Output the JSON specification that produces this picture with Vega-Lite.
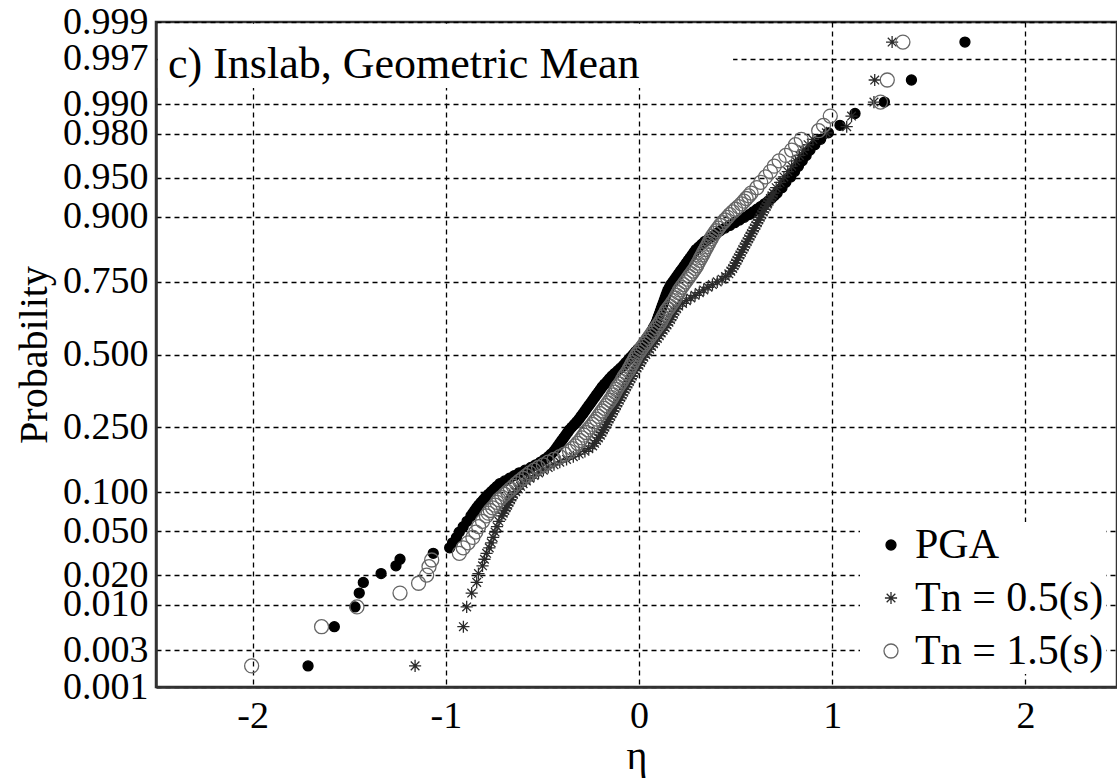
{
  "$schema": "https://vega.github.io/schema/vega-lite/v6.json",
  "width": 961,
  "height": 665,
  "autosize": {"type": "none"},
  "padding": {"left": 156, "top": 22, "right": 0, "bottom": 95},
  "background": "white",
  "config": {
    "view": {"stroke": "#333333", "strokeWidth": 2.5},
    "font": "Liberation Serif",
    "legend": {
      "orient": "none",
      "legendX": 704,
      "legendY": 500,
      "fillColor": "white",
      "padding": 2,
      "labelFont": "Liberation Serif",
      "labelFontSize": 42,
      "labelColor": "black",
      "labelLimit": 400,
      "symbolOffset": 8,
      "labelOffset": 3,
      "rowPadding": 11,
      "symbolStrokeWidth": 1.3
    }
  },
  "layer": [
    {
      "data": {"values": [{}]},
      "mark": {"type": "rect", "fill": "white"},
      "encoding": {
        "x": {"datum": -2.49, "type": "quantitative", "scale": {"domain": [-2.5, 2.474], "nice": false, "zero": false}},
        "x2": {"datum": 0.487},
        "y": {"datum": 2.477, "type": "quantitative", "scale": {"domain": [-3.0902, 3.0902], "nice": false, "zero": false}},
        "y2": {"datum": 3.075}
      }
    },
    {
      "data": {"values": [{}]},
      "mark": {"type": "text", "text": "c) Inslab, Geometric Mean", "align": "left", "baseline": "alphabetic", "font": "Liberation Serif", "fontSize": 44, "color": "black"},
      "encoding": {
        "x": {"datum": -2.438, "type": "quantitative", "scale": {"domain": [-2.5, 2.474], "nice": false, "zero": false}},
        "y": {"datum": 2.57, "type": "quantitative", "scale": {"domain": [-3.0902, 3.0902], "nice": false, "zero": false}}
      }
    },
    {
      "data": {"values": [
        {"series": "PGA", "eta": -1.713, "z": -2.894},
        {"series": "PGA", "eta": -1.577, "z": -2.530},
        {"series": "PGA", "eta": -1.470, "z": -2.346},
        {"series": "PGA", "eta": -1.448, "z": -2.217},
        {"series": "PGA", "eta": -1.427, "z": -2.118},
        {"series": "PGA", "eta": -1.335, "z": -2.036},
        {"series": "PGA", "eta": -1.258, "z": -1.964},
        {"series": "PGA", "eta": -1.237, "z": -1.903},
        {"series": "PGA", "eta": -1.065, "z": -1.848},
        {"series": "PGA", "eta": -0.980, "z": -1.797},
        {"series": "PGA", "eta": -0.965, "z": -1.75},
        {"series": "PGA", "eta": -0.945, "z": -1.70},
        {"series": "PGA", "eta": -0.930, "z": -1.65},
        {"series": "PGA", "eta": -0.910, "z": -1.60},
        {"series": "PGA", "eta": -0.890, "z": -1.55},
        {"series": "PGA", "eta": -0.870, "z": -1.50},
        {"series": "PGA", "eta": -0.860, "z": -1.475},
        {"series": "PGA", "eta": -0.850, "z": -1.45},
        {"series": "PGA", "eta": -0.840, "z": -1.425},
        {"series": "PGA", "eta": -0.830, "z": -1.40},
        {"series": "PGA", "eta": -0.818, "z": -1.375},
        {"series": "PGA", "eta": -0.805, "z": -1.35},
        {"series": "PGA", "eta": -0.793, "z": -1.325},
        {"series": "PGA", "eta": -0.780, "z": -1.30},
        {"series": "PGA", "eta": -0.765, "z": -1.275},
        {"series": "PGA", "eta": -0.750, "z": -1.25},
        {"series": "PGA", "eta": -0.735, "z": -1.225},
        {"series": "PGA", "eta": -0.720, "z": -1.20},
        {"series": "PGA", "eta": -0.695, "z": -1.175},
        {"series": "PGA", "eta": -0.670, "z": -1.15},
        {"series": "PGA", "eta": -0.645, "z": -1.125},
        {"series": "PGA", "eta": -0.620, "z": -1.10},
        {"series": "PGA", "eta": -0.590, "z": -1.075},
        {"series": "PGA", "eta": -0.560, "z": -1.05},
        {"series": "PGA", "eta": -0.535, "z": -1.025},
        {"series": "PGA", "eta": -0.510, "z": -1.00},
        {"series": "PGA", "eta": -0.490, "z": -0.975},
        {"series": "PGA", "eta": -0.470, "z": -0.95},
        {"series": "PGA", "eta": -0.455, "z": -0.925},
        {"series": "PGA", "eta": -0.440, "z": -0.90},
        {"series": "PGA", "eta": -0.430, "z": -0.875},
        {"series": "PGA", "eta": -0.420, "z": -0.85},
        {"series": "PGA", "eta": -0.410, "z": -0.825},
        {"series": "PGA", "eta": -0.400, "z": -0.80},
        {"series": "PGA", "eta": -0.390, "z": -0.775},
        {"series": "PGA", "eta": -0.380, "z": -0.75},
        {"series": "PGA", "eta": -0.370, "z": -0.725},
        {"series": "PGA", "eta": -0.360, "z": -0.70},
        {"series": "PGA", "eta": -0.348, "z": -0.675},
        {"series": "PGA", "eta": -0.335, "z": -0.65},
        {"series": "PGA", "eta": -0.322, "z": -0.625},
        {"series": "PGA", "eta": -0.310, "z": -0.60},
        {"series": "PGA", "eta": -0.300, "z": -0.575},
        {"series": "PGA", "eta": -0.290, "z": -0.55},
        {"series": "PGA", "eta": -0.280, "z": -0.525},
        {"series": "PGA", "eta": -0.270, "z": -0.50},
        {"series": "PGA", "eta": -0.260, "z": -0.475},
        {"series": "PGA", "eta": -0.250, "z": -0.45},
        {"series": "PGA", "eta": -0.240, "z": -0.425},
        {"series": "PGA", "eta": -0.230, "z": -0.40},
        {"series": "PGA", "eta": -0.220, "z": -0.375},
        {"series": "PGA", "eta": -0.210, "z": -0.35},
        {"series": "PGA", "eta": -0.200, "z": -0.325},
        {"series": "PGA", "eta": -0.190, "z": -0.30},
        {"series": "PGA", "eta": -0.178, "z": -0.275},
        {"series": "PGA", "eta": -0.165, "z": -0.25},
        {"series": "PGA", "eta": -0.153, "z": -0.225},
        {"series": "PGA", "eta": -0.140, "z": -0.20},
        {"series": "PGA", "eta": -0.125, "z": -0.175},
        {"series": "PGA", "eta": -0.110, "z": -0.15},
        {"series": "PGA", "eta": -0.095, "z": -0.125},
        {"series": "PGA", "eta": -0.080, "z": -0.10},
        {"series": "PGA", "eta": -0.068, "z": -0.075},
        {"series": "PGA", "eta": -0.055, "z": -0.05},
        {"series": "PGA", "eta": -0.043, "z": -0.025},
        {"series": "PGA", "eta": -0.030, "z": 0.00},
        {"series": "PGA", "eta": -0.018, "z": 0.025},
        {"series": "PGA", "eta": -0.005, "z": 0.05},
        {"series": "PGA", "eta": 0.008, "z": 0.075},
        {"series": "PGA", "eta": 0.020, "z": 0.10},
        {"series": "PGA", "eta": 0.030, "z": 0.125},
        {"series": "PGA", "eta": 0.040, "z": 0.15},
        {"series": "PGA", "eta": 0.050, "z": 0.175},
        {"series": "PGA", "eta": 0.060, "z": 0.20},
        {"series": "PGA", "eta": 0.068, "z": 0.225},
        {"series": "PGA", "eta": 0.075, "z": 0.25},
        {"series": "PGA", "eta": 0.083, "z": 0.275},
        {"series": "PGA", "eta": 0.090, "z": 0.30},
        {"series": "PGA", "eta": 0.095, "z": 0.325},
        {"series": "PGA", "eta": 0.100, "z": 0.35},
        {"series": "PGA", "eta": 0.105, "z": 0.375},
        {"series": "PGA", "eta": 0.110, "z": 0.40},
        {"series": "PGA", "eta": 0.115, "z": 0.425},
        {"series": "PGA", "eta": 0.120, "z": 0.45},
        {"series": "PGA", "eta": 0.125, "z": 0.475},
        {"series": "PGA", "eta": 0.130, "z": 0.50},
        {"series": "PGA", "eta": 0.135, "z": 0.525},
        {"series": "PGA", "eta": 0.140, "z": 0.55},
        {"series": "PGA", "eta": 0.145, "z": 0.575},
        {"series": "PGA", "eta": 0.150, "z": 0.60},
        {"series": "PGA", "eta": 0.158, "z": 0.625},
        {"series": "PGA", "eta": 0.165, "z": 0.65},
        {"series": "PGA", "eta": 0.175, "z": 0.675},
        {"series": "PGA", "eta": 0.185, "z": 0.70},
        {"series": "PGA", "eta": 0.195, "z": 0.725},
        {"series": "PGA", "eta": 0.205, "z": 0.75},
        {"series": "PGA", "eta": 0.215, "z": 0.775},
        {"series": "PGA", "eta": 0.225, "z": 0.80},
        {"series": "PGA", "eta": 0.235, "z": 0.825},
        {"series": "PGA", "eta": 0.245, "z": 0.85},
        {"series": "PGA", "eta": 0.255, "z": 0.875},
        {"series": "PGA", "eta": 0.265, "z": 0.90},
        {"series": "PGA", "eta": 0.275, "z": 0.925},
        {"series": "PGA", "eta": 0.285, "z": 0.95},
        {"series": "PGA", "eta": 0.295, "z": 0.975},
        {"series": "PGA", "eta": 0.310, "z": 1.00},
        {"series": "PGA", "eta": 0.325, "z": 1.025},
        {"series": "PGA", "eta": 0.340, "z": 1.05},
        {"series": "PGA", "eta": 0.360, "z": 1.075},
        {"series": "PGA", "eta": 0.380, "z": 1.10},
        {"series": "PGA", "eta": 0.400, "z": 1.125},
        {"series": "PGA", "eta": 0.420, "z": 1.15},
        {"series": "PGA", "eta": 0.445, "z": 1.175},
        {"series": "PGA", "eta": 0.470, "z": 1.20},
        {"series": "PGA", "eta": 0.495, "z": 1.225},
        {"series": "PGA", "eta": 0.520, "z": 1.25},
        {"series": "PGA", "eta": 0.545, "z": 1.275},
        {"series": "PGA", "eta": 0.570, "z": 1.30},
        {"series": "PGA", "eta": 0.590, "z": 1.325},
        {"series": "PGA", "eta": 0.610, "z": 1.35},
        {"series": "PGA", "eta": 0.630, "z": 1.375},
        {"series": "PGA", "eta": 0.650, "z": 1.40},
        {"series": "PGA", "eta": 0.668, "z": 1.425},
        {"series": "PGA", "eta": 0.685, "z": 1.45},
        {"series": "PGA", "eta": 0.700, "z": 1.475},
        {"series": "PGA", "eta": 0.715, "z": 1.50},
        {"series": "PGA", "eta": 0.740, "z": 1.55},
        {"series": "PGA", "eta": 0.760, "z": 1.60},
        {"series": "PGA", "eta": 0.785, "z": 1.65},
        {"series": "PGA", "eta": 0.805, "z": 1.70},
        {"series": "PGA", "eta": 0.825, "z": 1.75},
        {"series": "PGA", "eta": 0.845, "z": 1.80},
        {"series": "PGA", "eta": 0.865, "z": 1.85},
        {"series": "PGA", "eta": 0.885, "z": 1.90},
        {"series": "PGA", "eta": 0.910, "z": 1.95},
        {"series": "PGA", "eta": 0.940, "z": 2.00},
        {"series": "PGA", "eta": 0.980, "z": 2.06},
        {"series": "PGA", "eta": 1.040, "z": 2.13},
        {"series": "PGA", "eta": 1.118, "z": 2.24},
        {"series": "PGA", "eta": 1.270, "z": 2.346},
        {"series": "PGA", "eta": 1.410, "z": 2.551},
        {"series": "PGA", "eta": 1.687, "z": 2.904},

        {"series": "Tn = 0.5(s)", "eta": -1.159, "z": -2.894},
        {"series": "Tn = 0.5(s)", "eta": -0.909, "z": -2.530},
        {"series": "Tn = 0.5(s)", "eta": -0.892, "z": -2.346},
        {"series": "Tn = 0.5(s)", "eta": -0.866, "z": -2.217},
        {"series": "Tn = 0.5(s)", "eta": -0.840, "z": -2.118},
        {"series": "Tn = 0.5(s)", "eta": -0.831, "z": -2.036},
        {"series": "Tn = 0.5(s)", "eta": -0.810, "z": -1.964},
        {"series": "Tn = 0.5(s)", "eta": -0.800, "z": -1.903},
        {"series": "Tn = 0.5(s)", "eta": -0.789, "z": -1.848},
        {"series": "Tn = 0.5(s)", "eta": -0.775, "z": -1.797},
        {"series": "Tn = 0.5(s)", "eta": -0.765, "z": -1.75},
        {"series": "Tn = 0.5(s)", "eta": -0.755, "z": -1.70},
        {"series": "Tn = 0.5(s)", "eta": -0.745, "z": -1.65},
        {"series": "Tn = 0.5(s)", "eta": -0.735, "z": -1.60},
        {"series": "Tn = 0.5(s)", "eta": -0.725, "z": -1.55},
        {"series": "Tn = 0.5(s)", "eta": -0.710, "z": -1.50},
        {"series": "Tn = 0.5(s)", "eta": -0.703, "z": -1.475},
        {"series": "Tn = 0.5(s)", "eta": -0.695, "z": -1.45},
        {"series": "Tn = 0.5(s)", "eta": -0.688, "z": -1.425},
        {"series": "Tn = 0.5(s)", "eta": -0.680, "z": -1.40},
        {"series": "Tn = 0.5(s)", "eta": -0.673, "z": -1.375},
        {"series": "Tn = 0.5(s)", "eta": -0.665, "z": -1.35},
        {"series": "Tn = 0.5(s)", "eta": -0.658, "z": -1.325},
        {"series": "Tn = 0.5(s)", "eta": -0.650, "z": -1.30},
        {"series": "Tn = 0.5(s)", "eta": -0.638, "z": -1.275},
        {"series": "Tn = 0.5(s)", "eta": -0.625, "z": -1.25},
        {"series": "Tn = 0.5(s)", "eta": -0.613, "z": -1.225},
        {"series": "Tn = 0.5(s)", "eta": -0.600, "z": -1.20},
        {"series": "Tn = 0.5(s)", "eta": -0.583, "z": -1.175},
        {"series": "Tn = 0.5(s)", "eta": -0.565, "z": -1.15},
        {"series": "Tn = 0.5(s)", "eta": -0.543, "z": -1.125},
        {"series": "Tn = 0.5(s)", "eta": -0.520, "z": -1.10},
        {"series": "Tn = 0.5(s)", "eta": -0.495, "z": -1.075},
        {"series": "Tn = 0.5(s)", "eta": -0.470, "z": -1.05},
        {"series": "Tn = 0.5(s)", "eta": -0.440, "z": -1.025},
        {"series": "Tn = 0.5(s)", "eta": -0.410, "z": -1.00},
        {"series": "Tn = 0.5(s)", "eta": -0.375, "z": -0.975},
        {"series": "Tn = 0.5(s)", "eta": -0.340, "z": -0.95},
        {"series": "Tn = 0.5(s)", "eta": -0.310, "z": -0.925},
        {"series": "Tn = 0.5(s)", "eta": -0.280, "z": -0.90},
        {"series": "Tn = 0.5(s)", "eta": -0.260, "z": -0.875},
        {"series": "Tn = 0.5(s)", "eta": -0.240, "z": -0.85},
        {"series": "Tn = 0.5(s)", "eta": -0.230, "z": -0.825},
        {"series": "Tn = 0.5(s)", "eta": -0.220, "z": -0.80},
        {"series": "Tn = 0.5(s)", "eta": -0.210, "z": -0.775},
        {"series": "Tn = 0.5(s)", "eta": -0.200, "z": -0.75},
        {"series": "Tn = 0.5(s)", "eta": -0.192, "z": -0.725},
        {"series": "Tn = 0.5(s)", "eta": -0.185, "z": -0.70},
        {"series": "Tn = 0.5(s)", "eta": -0.177, "z": -0.675},
        {"series": "Tn = 0.5(s)", "eta": -0.170, "z": -0.65},
        {"series": "Tn = 0.5(s)", "eta": -0.162, "z": -0.625},
        {"series": "Tn = 0.5(s)", "eta": -0.155, "z": -0.60},
        {"series": "Tn = 0.5(s)", "eta": -0.147, "z": -0.575},
        {"series": "Tn = 0.5(s)", "eta": -0.140, "z": -0.55},
        {"series": "Tn = 0.5(s)", "eta": -0.132, "z": -0.525},
        {"series": "Tn = 0.5(s)", "eta": -0.125, "z": -0.50},
        {"series": "Tn = 0.5(s)", "eta": -0.117, "z": -0.475},
        {"series": "Tn = 0.5(s)", "eta": -0.110, "z": -0.45},
        {"series": "Tn = 0.5(s)", "eta": -0.102, "z": -0.425},
        {"series": "Tn = 0.5(s)", "eta": -0.095, "z": -0.40},
        {"series": "Tn = 0.5(s)", "eta": -0.087, "z": -0.375},
        {"series": "Tn = 0.5(s)", "eta": -0.080, "z": -0.35},
        {"series": "Tn = 0.5(s)", "eta": -0.072, "z": -0.325},
        {"series": "Tn = 0.5(s)", "eta": -0.065, "z": -0.30},
        {"series": "Tn = 0.5(s)", "eta": -0.057, "z": -0.275},
        {"series": "Tn = 0.5(s)", "eta": -0.050, "z": -0.25},
        {"series": "Tn = 0.5(s)", "eta": -0.042, "z": -0.225},
        {"series": "Tn = 0.5(s)", "eta": -0.035, "z": -0.20},
        {"series": "Tn = 0.5(s)", "eta": -0.027, "z": -0.175},
        {"series": "Tn = 0.5(s)", "eta": -0.020, "z": -0.15},
        {"series": "Tn = 0.5(s)", "eta": -0.010, "z": -0.125},
        {"series": "Tn = 0.5(s)", "eta": 0.000, "z": -0.10},
        {"series": "Tn = 0.5(s)", "eta": 0.008, "z": -0.075},
        {"series": "Tn = 0.5(s)", "eta": 0.015, "z": -0.05},
        {"series": "Tn = 0.5(s)", "eta": 0.025, "z": -0.025},
        {"series": "Tn = 0.5(s)", "eta": 0.035, "z": 0.00},
        {"series": "Tn = 0.5(s)", "eta": 0.045, "z": 0.025},
        {"series": "Tn = 0.5(s)", "eta": 0.055, "z": 0.05},
        {"series": "Tn = 0.5(s)", "eta": 0.065, "z": 0.075},
        {"series": "Tn = 0.5(s)", "eta": 0.075, "z": 0.10},
        {"series": "Tn = 0.5(s)", "eta": 0.085, "z": 0.125},
        {"series": "Tn = 0.5(s)", "eta": 0.095, "z": 0.15},
        {"series": "Tn = 0.5(s)", "eta": 0.105, "z": 0.175},
        {"series": "Tn = 0.5(s)", "eta": 0.115, "z": 0.20},
        {"series": "Tn = 0.5(s)", "eta": 0.125, "z": 0.225},
        {"series": "Tn = 0.5(s)", "eta": 0.135, "z": 0.25},
        {"series": "Tn = 0.5(s)", "eta": 0.145, "z": 0.275},
        {"series": "Tn = 0.5(s)", "eta": 0.155, "z": 0.30},
        {"series": "Tn = 0.5(s)", "eta": 0.163, "z": 0.325},
        {"series": "Tn = 0.5(s)", "eta": 0.170, "z": 0.35},
        {"series": "Tn = 0.5(s)", "eta": 0.178, "z": 0.375},
        {"series": "Tn = 0.5(s)", "eta": 0.185, "z": 0.40},
        {"series": "Tn = 0.5(s)", "eta": 0.195, "z": 0.425},
        {"series": "Tn = 0.5(s)", "eta": 0.205, "z": 0.45},
        {"series": "Tn = 0.5(s)", "eta": 0.225, "z": 0.475},
        {"series": "Tn = 0.5(s)", "eta": 0.245, "z": 0.50},
        {"series": "Tn = 0.5(s)", "eta": 0.268, "z": 0.525},
        {"series": "Tn = 0.5(s)", "eta": 0.290, "z": 0.55},
        {"series": "Tn = 0.5(s)", "eta": 0.312, "z": 0.575},
        {"series": "Tn = 0.5(s)", "eta": 0.335, "z": 0.60},
        {"series": "Tn = 0.5(s)", "eta": 0.357, "z": 0.625},
        {"series": "Tn = 0.5(s)", "eta": 0.380, "z": 0.65},
        {"series": "Tn = 0.5(s)", "eta": 0.405, "z": 0.675},
        {"series": "Tn = 0.5(s)", "eta": 0.430, "z": 0.70},
        {"series": "Tn = 0.5(s)", "eta": 0.448, "z": 0.725},
        {"series": "Tn = 0.5(s)", "eta": 0.465, "z": 0.75},
        {"series": "Tn = 0.5(s)", "eta": 0.475, "z": 0.775},
        {"series": "Tn = 0.5(s)", "eta": 0.485, "z": 0.80},
        {"series": "Tn = 0.5(s)", "eta": 0.492, "z": 0.825},
        {"series": "Tn = 0.5(s)", "eta": 0.500, "z": 0.85},
        {"series": "Tn = 0.5(s)", "eta": 0.507, "z": 0.875},
        {"series": "Tn = 0.5(s)", "eta": 0.515, "z": 0.90},
        {"series": "Tn = 0.5(s)", "eta": 0.522, "z": 0.925},
        {"series": "Tn = 0.5(s)", "eta": 0.530, "z": 0.95},
        {"series": "Tn = 0.5(s)", "eta": 0.537, "z": 0.975},
        {"series": "Tn = 0.5(s)", "eta": 0.545, "z": 1.00},
        {"series": "Tn = 0.5(s)", "eta": 0.552, "z": 1.025},
        {"series": "Tn = 0.5(s)", "eta": 0.560, "z": 1.05},
        {"series": "Tn = 0.5(s)", "eta": 0.567, "z": 1.075},
        {"series": "Tn = 0.5(s)", "eta": 0.575, "z": 1.10},
        {"series": "Tn = 0.5(s)", "eta": 0.582, "z": 1.125},
        {"series": "Tn = 0.5(s)", "eta": 0.590, "z": 1.15},
        {"series": "Tn = 0.5(s)", "eta": 0.597, "z": 1.175},
        {"series": "Tn = 0.5(s)", "eta": 0.605, "z": 1.20},
        {"series": "Tn = 0.5(s)", "eta": 0.612, "z": 1.225},
        {"series": "Tn = 0.5(s)", "eta": 0.620, "z": 1.25},
        {"series": "Tn = 0.5(s)", "eta": 0.627, "z": 1.275},
        {"series": "Tn = 0.5(s)", "eta": 0.635, "z": 1.30},
        {"series": "Tn = 0.5(s)", "eta": 0.643, "z": 1.325},
        {"series": "Tn = 0.5(s)", "eta": 0.650, "z": 1.35},
        {"series": "Tn = 0.5(s)", "eta": 0.658, "z": 1.375},
        {"series": "Tn = 0.5(s)", "eta": 0.665, "z": 1.40},
        {"series": "Tn = 0.5(s)", "eta": 0.673, "z": 1.425},
        {"series": "Tn = 0.5(s)", "eta": 0.680, "z": 1.45},
        {"series": "Tn = 0.5(s)", "eta": 0.688, "z": 1.475},
        {"series": "Tn = 0.5(s)", "eta": 0.695, "z": 1.50},
        {"series": "Tn = 0.5(s)", "eta": 0.710, "z": 1.55},
        {"series": "Tn = 0.5(s)", "eta": 0.730, "z": 1.60},
        {"series": "Tn = 0.5(s)", "eta": 0.750, "z": 1.65},
        {"series": "Tn = 0.5(s)", "eta": 0.770, "z": 1.70},
        {"series": "Tn = 0.5(s)", "eta": 0.790, "z": 1.75},
        {"series": "Tn = 0.5(s)", "eta": 0.810, "z": 1.80},
        {"series": "Tn = 0.5(s)", "eta": 0.830, "z": 1.85},
        {"series": "Tn = 0.5(s)", "eta": 0.850, "z": 1.90},
        {"series": "Tn = 0.5(s)", "eta": 0.875, "z": 1.95},
        {"series": "Tn = 0.5(s)", "eta": 0.900, "z": 2.00},
        {"series": "Tn = 0.5(s)", "eta": 0.970, "z": 2.06},
        {"series": "Tn = 0.5(s)", "eta": 1.075, "z": 2.117},
        {"series": "Tn = 0.5(s)", "eta": 1.100, "z": 2.216},
        {"series": "Tn = 0.5(s)", "eta": 1.216, "z": 2.346},
        {"series": "Tn = 0.5(s)", "eta": 1.220, "z": 2.551},
        {"series": "Tn = 0.5(s)", "eta": 1.310, "z": 2.904},

        {"series": "Tn = 1.5(s)", "eta": -2.005, "z": -2.894},
        {"series": "Tn = 1.5(s)", "eta": -1.643, "z": -2.530},
        {"series": "Tn = 1.5(s)", "eta": -1.460, "z": -2.346},
        {"series": "Tn = 1.5(s)", "eta": -1.237, "z": -2.217},
        {"series": "Tn = 1.5(s)", "eta": -1.141, "z": -2.126},
        {"series": "Tn = 1.5(s)", "eta": -1.099, "z": -2.050},
        {"series": "Tn = 1.5(s)", "eta": -1.087, "z": -1.972},
        {"series": "Tn = 1.5(s)", "eta": -1.073, "z": -1.910},
        {"series": "Tn = 1.5(s)", "eta": -0.930, "z": -1.848},
        {"series": "Tn = 1.5(s)", "eta": -0.910, "z": -1.797},
        {"series": "Tn = 1.5(s)", "eta": -0.885, "z": -1.75},
        {"series": "Tn = 1.5(s)", "eta": -0.860, "z": -1.70},
        {"series": "Tn = 1.5(s)", "eta": -0.845, "z": -1.65},
        {"series": "Tn = 1.5(s)", "eta": -0.830, "z": -1.60},
        {"series": "Tn = 1.5(s)", "eta": -0.810, "z": -1.55},
        {"series": "Tn = 1.5(s)", "eta": -0.790, "z": -1.50},
        {"series": "Tn = 1.5(s)", "eta": -0.780, "z": -1.475},
        {"series": "Tn = 1.5(s)", "eta": -0.770, "z": -1.45},
        {"series": "Tn = 1.5(s)", "eta": -0.758, "z": -1.425},
        {"series": "Tn = 1.5(s)", "eta": -0.745, "z": -1.40},
        {"series": "Tn = 1.5(s)", "eta": -0.735, "z": -1.375},
        {"series": "Tn = 1.5(s)", "eta": -0.725, "z": -1.35},
        {"series": "Tn = 1.5(s)", "eta": -0.710, "z": -1.325},
        {"series": "Tn = 1.5(s)", "eta": -0.695, "z": -1.30},
        {"series": "Tn = 1.5(s)", "eta": -0.680, "z": -1.275},
        {"series": "Tn = 1.5(s)", "eta": -0.665, "z": -1.25},
        {"series": "Tn = 1.5(s)", "eta": -0.650, "z": -1.225},
        {"series": "Tn = 1.5(s)", "eta": -0.635, "z": -1.20},
        {"series": "Tn = 1.5(s)", "eta": -0.618, "z": -1.175},
        {"series": "Tn = 1.5(s)", "eta": -0.600, "z": -1.15},
        {"series": "Tn = 1.5(s)", "eta": -0.583, "z": -1.125},
        {"series": "Tn = 1.5(s)", "eta": -0.565, "z": -1.10},
        {"series": "Tn = 1.5(s)", "eta": -0.543, "z": -1.075},
        {"series": "Tn = 1.5(s)", "eta": -0.520, "z": -1.05},
        {"series": "Tn = 1.5(s)", "eta": -0.495, "z": -1.025},
        {"series": "Tn = 1.5(s)", "eta": -0.470, "z": -1.00},
        {"series": "Tn = 1.5(s)", "eta": -0.440, "z": -0.975},
        {"series": "Tn = 1.5(s)", "eta": -0.410, "z": -0.95},
        {"series": "Tn = 1.5(s)", "eta": -0.385, "z": -0.925},
        {"series": "Tn = 1.5(s)", "eta": -0.360, "z": -0.90},
        {"series": "Tn = 1.5(s)", "eta": -0.345, "z": -0.875},
        {"series": "Tn = 1.5(s)", "eta": -0.330, "z": -0.85},
        {"series": "Tn = 1.5(s)", "eta": -0.318, "z": -0.825},
        {"series": "Tn = 1.5(s)", "eta": -0.305, "z": -0.80},
        {"series": "Tn = 1.5(s)", "eta": -0.295, "z": -0.775},
        {"series": "Tn = 1.5(s)", "eta": -0.285, "z": -0.75},
        {"series": "Tn = 1.5(s)", "eta": -0.275, "z": -0.725},
        {"series": "Tn = 1.5(s)", "eta": -0.265, "z": -0.70},
        {"series": "Tn = 1.5(s)", "eta": -0.252, "z": -0.675},
        {"series": "Tn = 1.5(s)", "eta": -0.240, "z": -0.65},
        {"series": "Tn = 1.5(s)", "eta": -0.230, "z": -0.625},
        {"series": "Tn = 1.5(s)", "eta": -0.220, "z": -0.60},
        {"series": "Tn = 1.5(s)", "eta": -0.210, "z": -0.575},
        {"series": "Tn = 1.5(s)", "eta": -0.200, "z": -0.55},
        {"series": "Tn = 1.5(s)", "eta": -0.190, "z": -0.525},
        {"series": "Tn = 1.5(s)", "eta": -0.180, "z": -0.50},
        {"series": "Tn = 1.5(s)", "eta": -0.170, "z": -0.475},
        {"series": "Tn = 1.5(s)", "eta": -0.160, "z": -0.45},
        {"series": "Tn = 1.5(s)", "eta": -0.150, "z": -0.425},
        {"series": "Tn = 1.5(s)", "eta": -0.140, "z": -0.40},
        {"series": "Tn = 1.5(s)", "eta": -0.133, "z": -0.375},
        {"series": "Tn = 1.5(s)", "eta": -0.125, "z": -0.35},
        {"series": "Tn = 1.5(s)", "eta": -0.118, "z": -0.325},
        {"series": "Tn = 1.5(s)", "eta": -0.110, "z": -0.30},
        {"series": "Tn = 1.5(s)", "eta": -0.100, "z": -0.275},
        {"series": "Tn = 1.5(s)", "eta": -0.090, "z": -0.25},
        {"series": "Tn = 1.5(s)", "eta": -0.083, "z": -0.225},
        {"series": "Tn = 1.5(s)", "eta": -0.075, "z": -0.20},
        {"series": "Tn = 1.5(s)", "eta": -0.065, "z": -0.175},
        {"series": "Tn = 1.5(s)", "eta": -0.055, "z": -0.15},
        {"series": "Tn = 1.5(s)", "eta": -0.048, "z": -0.125},
        {"series": "Tn = 1.5(s)", "eta": -0.040, "z": -0.10},
        {"series": "Tn = 1.5(s)", "eta": -0.033, "z": -0.075},
        {"series": "Tn = 1.5(s)", "eta": -0.025, "z": -0.05},
        {"series": "Tn = 1.5(s)", "eta": -0.018, "z": -0.025},
        {"series": "Tn = 1.5(s)", "eta": -0.010, "z": 0.00},
        {"series": "Tn = 1.5(s)", "eta": 0.000, "z": 0.025},
        {"series": "Tn = 1.5(s)", "eta": 0.010, "z": 0.05},
        {"series": "Tn = 1.5(s)", "eta": 0.020, "z": 0.075},
        {"series": "Tn = 1.5(s)", "eta": 0.030, "z": 0.10},
        {"series": "Tn = 1.5(s)", "eta": 0.040, "z": 0.125},
        {"series": "Tn = 1.5(s)", "eta": 0.050, "z": 0.15},
        {"series": "Tn = 1.5(s)", "eta": 0.060, "z": 0.175},
        {"series": "Tn = 1.5(s)", "eta": 0.070, "z": 0.20},
        {"series": "Tn = 1.5(s)", "eta": 0.080, "z": 0.225},
        {"series": "Tn = 1.5(s)", "eta": 0.090, "z": 0.25},
        {"series": "Tn = 1.5(s)", "eta": 0.100, "z": 0.275},
        {"series": "Tn = 1.5(s)", "eta": 0.110, "z": 0.30},
        {"series": "Tn = 1.5(s)", "eta": 0.118, "z": 0.325},
        {"series": "Tn = 1.5(s)", "eta": 0.125, "z": 0.35},
        {"series": "Tn = 1.5(s)", "eta": 0.133, "z": 0.375},
        {"series": "Tn = 1.5(s)", "eta": 0.140, "z": 0.40},
        {"series": "Tn = 1.5(s)", "eta": 0.150, "z": 0.425},
        {"series": "Tn = 1.5(s)", "eta": 0.160, "z": 0.45},
        {"series": "Tn = 1.5(s)", "eta": 0.170, "z": 0.475},
        {"series": "Tn = 1.5(s)", "eta": 0.180, "z": 0.50},
        {"series": "Tn = 1.5(s)", "eta": 0.188, "z": 0.525},
        {"series": "Tn = 1.5(s)", "eta": 0.195, "z": 0.55},
        {"series": "Tn = 1.5(s)", "eta": 0.203, "z": 0.575},
        {"series": "Tn = 1.5(s)", "eta": 0.210, "z": 0.60},
        {"series": "Tn = 1.5(s)", "eta": 0.220, "z": 0.625},
        {"series": "Tn = 1.5(s)", "eta": 0.230, "z": 0.65},
        {"series": "Tn = 1.5(s)", "eta": 0.240, "z": 0.675},
        {"series": "Tn = 1.5(s)", "eta": 0.250, "z": 0.70},
        {"series": "Tn = 1.5(s)", "eta": 0.260, "z": 0.725},
        {"series": "Tn = 1.5(s)", "eta": 0.270, "z": 0.75},
        {"series": "Tn = 1.5(s)", "eta": 0.280, "z": 0.775},
        {"series": "Tn = 1.5(s)", "eta": 0.290, "z": 0.80},
        {"series": "Tn = 1.5(s)", "eta": 0.298, "z": 0.825},
        {"series": "Tn = 1.5(s)", "eta": 0.305, "z": 0.85},
        {"series": "Tn = 1.5(s)", "eta": 0.313, "z": 0.875},
        {"series": "Tn = 1.5(s)", "eta": 0.320, "z": 0.90},
        {"series": "Tn = 1.5(s)", "eta": 0.328, "z": 0.925},
        {"series": "Tn = 1.5(s)", "eta": 0.335, "z": 0.95},
        {"series": "Tn = 1.5(s)", "eta": 0.343, "z": 0.975},
        {"series": "Tn = 1.5(s)", "eta": 0.350, "z": 1.00},
        {"series": "Tn = 1.5(s)", "eta": 0.358, "z": 1.025},
        {"series": "Tn = 1.5(s)", "eta": 0.365, "z": 1.05},
        {"series": "Tn = 1.5(s)", "eta": 0.373, "z": 1.075},
        {"series": "Tn = 1.5(s)", "eta": 0.380, "z": 1.10},
        {"series": "Tn = 1.5(s)", "eta": 0.390, "z": 1.125},
        {"series": "Tn = 1.5(s)", "eta": 0.400, "z": 1.15},
        {"series": "Tn = 1.5(s)", "eta": 0.410, "z": 1.175},
        {"series": "Tn = 1.5(s)", "eta": 0.420, "z": 1.20},
        {"series": "Tn = 1.5(s)", "eta": 0.433, "z": 1.225},
        {"series": "Tn = 1.5(s)", "eta": 0.445, "z": 1.25},
        {"series": "Tn = 1.5(s)", "eta": 0.458, "z": 1.275},
        {"series": "Tn = 1.5(s)", "eta": 0.470, "z": 1.30},
        {"series": "Tn = 1.5(s)", "eta": 0.485, "z": 1.325},
        {"series": "Tn = 1.5(s)", "eta": 0.500, "z": 1.35},
        {"series": "Tn = 1.5(s)", "eta": 0.515, "z": 1.375},
        {"series": "Tn = 1.5(s)", "eta": 0.530, "z": 1.40},
        {"series": "Tn = 1.5(s)", "eta": 0.543, "z": 1.425},
        {"series": "Tn = 1.5(s)", "eta": 0.555, "z": 1.45},
        {"series": "Tn = 1.5(s)", "eta": 0.568, "z": 1.475},
        {"series": "Tn = 1.5(s)", "eta": 0.580, "z": 1.50},
        {"series": "Tn = 1.5(s)", "eta": 0.610, "z": 1.55},
        {"series": "Tn = 1.5(s)", "eta": 0.630, "z": 1.60},
        {"series": "Tn = 1.5(s)", "eta": 0.655, "z": 1.65},
        {"series": "Tn = 1.5(s)", "eta": 0.680, "z": 1.70},
        {"series": "Tn = 1.5(s)", "eta": 0.700, "z": 1.75},
        {"series": "Tn = 1.5(s)", "eta": 0.725, "z": 1.80},
        {"series": "Tn = 1.5(s)", "eta": 0.760, "z": 1.85},
        {"series": "Tn = 1.5(s)", "eta": 0.790, "z": 1.90},
        {"series": "Tn = 1.5(s)", "eta": 0.810, "z": 1.95},
        {"series": "Tn = 1.5(s)", "eta": 0.840, "z": 2.00},
        {"series": "Tn = 1.5(s)", "eta": 0.930, "z": 2.08},
        {"series": "Tn = 1.5(s)", "eta": 0.955, "z": 2.13},
        {"series": "Tn = 1.5(s)", "eta": 0.990, "z": 2.216},
        {"series": "Tn = 1.5(s)", "eta": 1.250, "z": 2.346},
        {"series": "Tn = 1.5(s)", "eta": 1.285, "z": 2.551},
        {"series": "Tn = 1.5(s)", "eta": 1.366, "z": 2.904}
      ]},
      "mark": {"type": "point", "strokeWidth": 1.3, "opacity": 1},
      "encoding": {
        "x": {
          "field": "eta", "type": "quantitative",
          "scale": {"domain": [-2.5, 2.474], "nice": false, "zero": false},
          "axis": {
            "values": [-2, -1, 0, 1, 2],
            "labelExpr": "'' + datum.value",
            "title": "η",
            "grid": true, "gridColor": "black", "gridDash": [5, 4], "gridWidth": 1.3, "gridOpacity": 1,
            "domainColor": "#333333", "domainWidth": 2.5,
            "ticks": false,
            "labelFont": "Liberation Serif", "labelFontSize": 38, "labelColor": "black", "labelPadding": 10,
            "labelFlush": false, "labelOverlap": false, "labelBound": false,
            "titleFont": "Liberation Serif", "titleFontSize": 40, "titleFontWeight": "normal", "titleColor": "black", "titlePadding": 1
          }
        },
        "y": {
          "field": "z", "type": "quantitative",
          "scale": {"domain": [-3.0902, 3.0902], "nice": false, "zero": false},
          "axis": {
            "values": [-3.0902, -2.7478, -2.3263, -2.0537, -1.6449, -1.2816, -0.6745, 0, 0.6745, 1.2816, 1.6449, 2.0537, 2.3263, 2.7478, 3.0902],
            "labelExpr": "datum.value < -3 ? '0.001' : datum.value < -2.7 ? '0.003' : datum.value < -2.3 ? '0.010' : datum.value < -2 ? '0.020' : datum.value < -1.6 ? '0.050' : datum.value < -1.2 ? '0.100' : datum.value < -0.6 ? '0.250' : datum.value < 0.5 ? '0.500' : datum.value < 1 ? '0.750' : datum.value < 1.5 ? '0.900' : datum.value < 2 ? '0.950' : datum.value < 2.2 ? '0.980' : datum.value < 2.5 ? '0.990' : datum.value < 3 ? '0.997' : '0.999'",
            "title": "Probability",
            "grid": true, "gridColor": "black", "gridDash": [5, 4], "gridWidth": 1.3, "gridOpacity": 1,
            "domainColor": "#333333", "domainWidth": 2.5,
            "ticks": false,
            "labelFont": "Liberation Serif", "labelFontSize": 38, "labelColor": "black", "labelPadding": 8,
            "labelFlush": false, "labelOverlap": false, "labelBound": false,
            "titleFont": "Liberation Serif", "titleFontSize": 40, "titleFontWeight": "normal", "titleColor": "black", "titlePadding": 8
          }
        },
        "fill": {
          "field": "series", "type": "nominal",
          "scale": {"domain": ["PGA", "Tn = 0.5(s)", "Tn = 1.5(s)"], "range": ["black", "transparent", "transparent"]},
          "legend": {"title": null}
        },
        "stroke": {
          "field": "series", "type": "nominal",
          "scale": {"domain": ["PGA", "Tn = 0.5(s)", "Tn = 1.5(s)"], "range": ["black", "#2a2a2a", "#666666"]},
          "legend": {"title": null}
        },
        "shape": {
          "field": "series", "type": "nominal",
          "scale": {"domain": ["PGA", "Tn = 0.5(s)", "Tn = 1.5(s)"], "range": ["circle", "M-1,0L1,0M0,-1L0,1M-0.71,-0.71L0.71,0.71M-0.71,0.71L0.71,-0.71", "circle"]},
          "legend": {"title": null}
        },
        "size": {
          "field": "series", "type": "nominal",
          "scale": {"domain": ["PGA", "Tn = 0.5(s)", "Tn = 1.5(s)"], "range": [100, 196, 121]},
          "legend": {"title": null}
        }
      }
    }
  ]
}
